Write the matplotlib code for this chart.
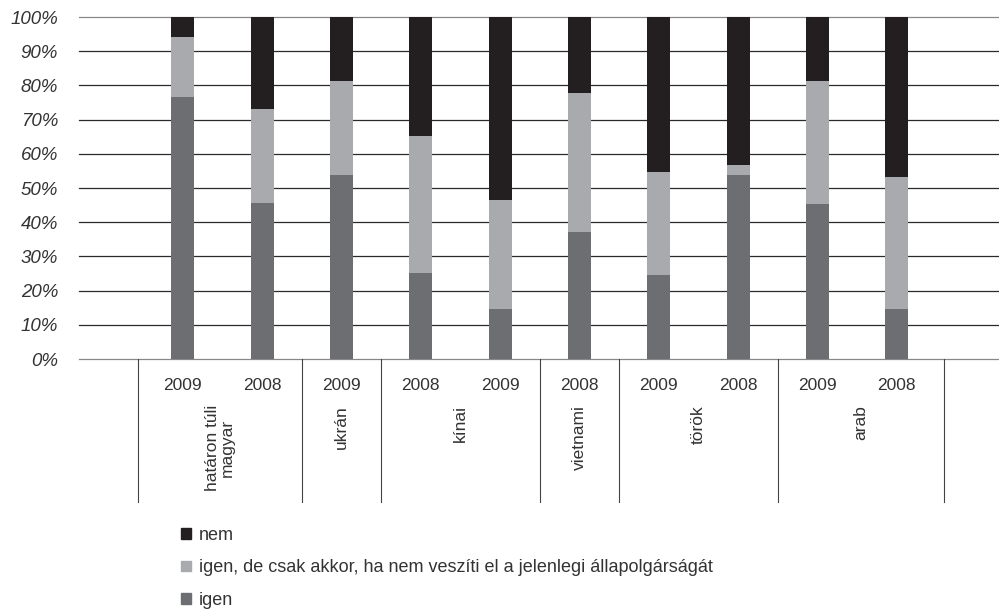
import numpy as np
import matplotlib
matplotlib.use("Agg")
import matplotlib.pyplot as plt
import matplotlib.transforms as mtransforms
from matplotlib.patches import Patch

plt.rcParams['font.family'] = ['Liberation Sans', 'DejaVu Sans']

# data (percent)
years = ['2009', '2008', '2009', '2008', '2009', '2008', '2009', '2008', '2009', '2008']
groups = ['határon túli\nmagyar', 'ukrán', 'kínai', 'vietnami', 'török', 'arab']
group_sizes = [2, 1, 2, 1, 2, 2]
igen = [76.6, 45.7, 53.9, 25.1, 14.6, 37.2, 24.6, 53.9, 45.4, 14.6]
igen_de = [17.6, 27.4, 27.4, 40.2, 31.9, 40.6, 30.1, 2.8, 35.9, 38.6]
nem = [5.8, 26.9, 18.7, 34.7, 53.5, 22.2, 45.3, 43.3, 18.7, 46.8]

series_labels = ['igen', 'igen, de csak akkor, ha nem veszíti el a jelenlegi állapolgárságát', 'nem']
colors = ['#6d6e71', '#a9aaad', '#231f20']
text_color = '#333333'

fig = plt.figure(figsize=(9.99, 6.11), dpi=100)
ax = fig.add_axes([0.079, 0.4124, 0.921, 0.5597])

x = np.arange(len(years))
width = 0.29
bottom = np.zeros(len(years))
for vals, col in zip([igen, igen_de, nem], colors):
    ax.bar(x, vals, width, bottom=bottom, color=col, zorder=3)
    bottom += np.array(vals)

ax.set_xlim(-1.31, 10.29)
ax.set_ylim(0, 100)
yt = np.arange(0, 101, 10)
ax.set_yticks(yt)
ax.set_yticklabels([f'{v}%' for v in yt], fontstyle='italic', fontsize=13.5, color=text_color)
for v in yt:
    ax.axhline(v, color='#2a2a2a' if 0 < v < 100 else '#888888', lw=0.9, zorder=1, clip_on=False)

ax.set_xticks(x)
ax.set_xticklabels(years, fontsize=12.5, color=text_color)
ax.tick_params(axis='both', length=0)
ax.tick_params(axis='x', pad=14)
ax.tick_params(axis='y', pad=15)
for s in ax.spines.values():
    s.set_visible(False)

# group separators and group labels below the axis
trans = mtransforms.blended_transform_factory(ax.transData, ax.transAxes)
edges = np.concatenate([[0], np.cumsum(group_sizes)]) - 0.5
edges[0] = -0.56
edges[-1] = 9.6
for e in edges:
    ax.plot([e, e], [0, -0.418], transform=trans, color='#444444', lw=0.8, clip_on=False)
for i, g in enumerate(groups):
    cx = (edges[i] + edges[i + 1]) / 2
    ax.text(cx, -0.135, g, transform=trans, rotation=90, ha='center', va='top',
            fontsize=12.5, color=text_color, multialignment='center', linespacing=1.0)

handles = [Patch(color=c) for c in colors[::-1]]
fig.legend(handles, series_labels[::-1], loc='upper left', bbox_to_anchor=(0.172, 0.153),
           frameon=False, fontsize=13, handlelength=0.55, handleheight=0.55,
           handletextpad=0.45, labelspacing=0.88, borderpad=0, labelcolor=text_color)

fig.savefig('out.png', dpi=100)
